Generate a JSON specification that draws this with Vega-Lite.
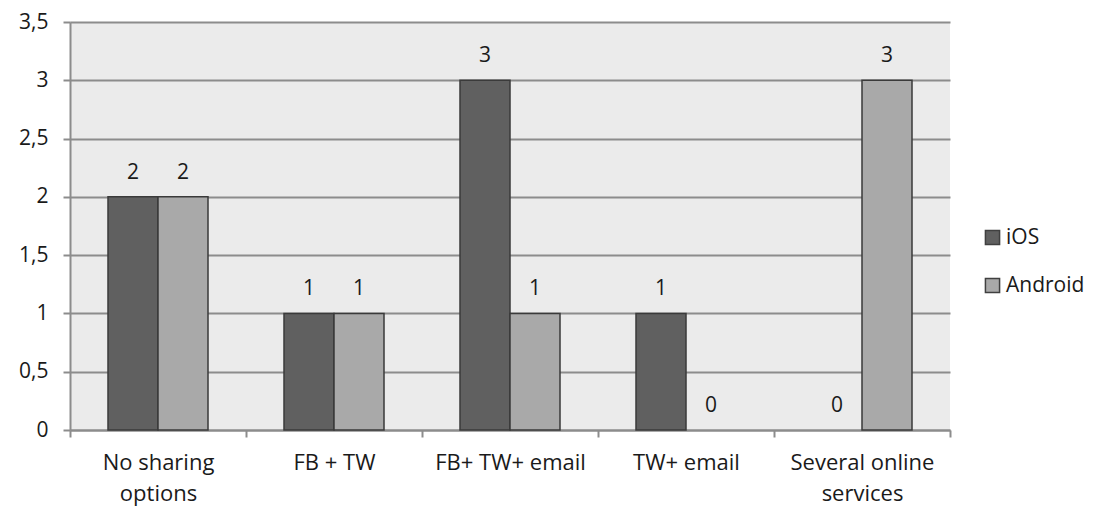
{
  "$schema": "https://vega.github.io/schema/vega-lite/v6.json",
  "autosize": {"type": "none"},
  "padding": {"left": 70, "top": 22, "right": 155, "bottom": 80},
  "width": 880,
  "height": 408,
  "background": "white",
  "config": {
    "font": "Open Sans",
    "view": {"fill": "#ebebeb", "stroke": null},
    "axis": {"labelFont": "Open Sans", "labelFontSize": 21, "labelColor": "#1a1a1a", "domainColor": "#8c8c8c", "domainWidth": 2, "tickColor": "#8c8c8c", "tickWidth": 2, "gridColor": "#8c8c8c", "gridWidth": 2}
  },
  "data": {
    "values": [
      {"category": "No sharing options", "os": "iOS", "value": 2},
      {"category": "No sharing options", "os": "Android", "value": 2},
      {"category": "FB + TW", "os": "iOS", "value": 1},
      {"category": "FB + TW", "os": "Android", "value": 1},
      {"category": "FB+ TW+ email", "os": "iOS", "value": 3},
      {"category": "FB+ TW+ email", "os": "Android", "value": 1},
      {"category": "TW+ email", "os": "iOS", "value": 1},
      {"category": "TW+ email", "os": "Android", "value": 0},
      {"category": "Several online services", "os": "iOS", "value": 0},
      {"category": "Several online services", "os": "Android", "value": 3}
    ]
  },
  "encoding": {
    "x": {
      "field": "category", "type": "nominal", "sort": null, "title": null,
      "scale": {"paddingInner": 0, "paddingOuter": 0},
      "axis": {
        "tickBand": "extent", "labelAngle": 0, "labelPadding": 15, "tickSize": 7, "grid": false,
        "labelFontSize": 22, "labelLineHeight": 31,
        "labelExpr": "datum.value == 'No sharing options' ? ['No sharing', 'options'] : datum.value == 'Several online services' ? ['Several online', 'services'] : datum.value"
      }
    },
    "xOffset": {"field": "os", "type": "nominal", "sort": ["iOS", "Android"], "scale": {"paddingInner": 0, "paddingOuter": 0.76}},
    "y": {
      "field": "value", "type": "quantitative", "title": null,
      "scale": {"domain": [0, 3.5], "nice": false},
      "axis": {"values": [0, 0.5, 1, 1.5, 2, 2.5, 3, 3.5], "tickSize": 7, "labelPadding": 15, "labelExpr": "replace(format(datum.value, ''), '.', ',')"}
    }
  },
  "layer": [
    {
      "transform": [{"filter": "datum.value > 0"}],
      "mark": {"type": "bar", "stroke": "#3a3a3a", "strokeWidth": 1.5},
      "encoding": {
        "color": {
          "field": "os", "type": "nominal", "sort": ["iOS", "Android"],
          "scale": {"domain": ["iOS", "Android"], "range": ["#606060", "#a9a9a9"]},
          "legend": {"title": null, "orient": "none", "legendX": 912, "legendY": 205, "symbolType": "square", "symbolSize": 200, "symbolStrokeColor": "#404040", "symbolStrokeWidth": 1.5, "labelFont": "Open Sans", "labelFontSize": 21, "labelColor": "#1a1a1a", "rowPadding": 26, "labelOffset": 3}
        }
      }
    },
    {
      "mark": {"type": "text", "baseline": "alphabetic", "dy": -18, "fontSize": 21, "font": "Open Sans", "color": "#1a1a1a"},
      "encoding": {"text": {"field": "value", "type": "quantitative"}}
    }
  ]
}
